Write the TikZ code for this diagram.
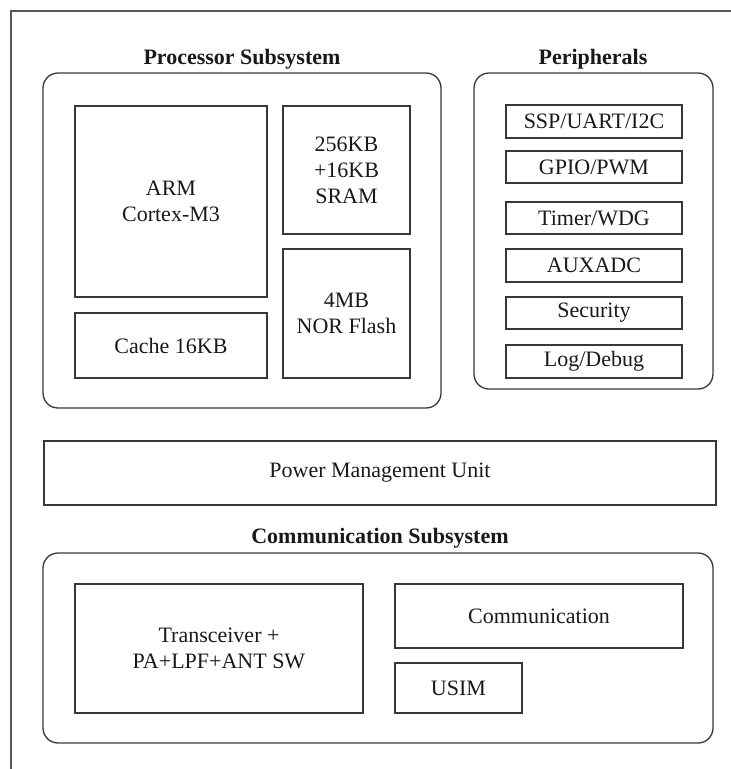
\documentclass[tikz,border=0pt]{standalone}
\usepackage{fontspec}
\setmainfont{Liberation Serif}
\usepackage{tikz}
\tikzset{blk/.style = {draw = mgray, line width = 1.3pt, inner sep = 0, outer sep = 0, align = center, text = mtext, font = \fontsize{22}{26}\selectfont}}
\tikzset{grp/.style = {blk, rounded corners = 15pt}}
\tikzset{ttl/.style = {anchor = base, inner sep = 0, text = mtext, font = \fontsize{22}{26}\selectfont\bfseries}}
\definecolor{mgray}{rgb}{0.22, 0.22, 0.22}
\definecolor{mtext}{rgb}{0.1, 0.1, 0.1}
\definecolor{mframe}{rgb}{0.35, 0.35, 0.35}

\begin{document}
\begin{tikzpicture}[x=1pt, y=-1pt]
       \useasboundingbox (0, 0) rectangle (731, 769);
       \draw [mframe, line width = 1.2pt] (11, 769) -- (11, 11) -- (731, 11);

       % processor subsystem
       \node [ttl] (proctitle) at (242, 64) {Processor Subsystem};
       \node [grp, minimum width = 398, minimum height = 335] (proc) at (242, 240.5) {};
       \node [blk, minimum width = 192, minimum height = 191] (arm) at (171, 201.5) {ARM\\Cortex-M3};
       \node [blk, minimum width = 192, minimum height = 65] (cache) at (171, 345.5) {Cache 16KB};
       \node [blk, minimum width = 127, minimum height = 128] (sram) at (346.5, 170) {256KB\\+16KB\\SRAM};
       \node [blk, minimum width = 127, minimum height = 129] (nor) at (346.5, 313.5) {4MB\\NOR Flash};

       % peripherals
       \node [ttl] (pertitle) at (593, 64) {Peripherals};
       \node [grp, minimum width = 239, minimum height = 316] (per) at (593.5, 231) {};
       \node [blk, minimum width = 176, minimum height = 33] (ssp) at (594, 121.5) {SSP/UART/I2C};
       \node [blk, minimum width = 176, minimum height = 32] (gpio) at (594, 167) {GPIO/PWM};
       \node [blk, minimum width = 176, minimum height = 32] (timer) at (594, 218) {Timer/WDG};
       \node [blk, minimum width = 176, minimum height = 33] (adc) at (594, 265.5) {AUXADC};
       \node [blk, minimum width = 176, minimum height = 32] (sec) at (594, 313) {Security};
       \node [blk, minimum width = 176, minimum height = 33] (log) at (594, 361.5) {Log/Debug};

       % power management
       \node [blk, minimum width = 672, minimum height = 64] (pmu) at (380, 473) {Power Management Unit};

       % communication subsystem
       \node [ttl] (comtitle) at (380, 543) {Communication Subsystem};
       \node [grp, minimum width = 670, minimum height = 190] (com) at (378, 648) {};
       \node [blk, minimum width = 288, minimum height = 129] (trx) at (219, 648.5) {Transceiver +\\PA+LPF+ANT SW};
       \node [blk, minimum width = 288, minimum height = 64] (comm) at (539, 616) {Communication};
       \node [blk, minimum width = 127, minimum height = 50] (usim) at (458.5, 688) {USIM};
    \end{tikzpicture}
\end{document}
